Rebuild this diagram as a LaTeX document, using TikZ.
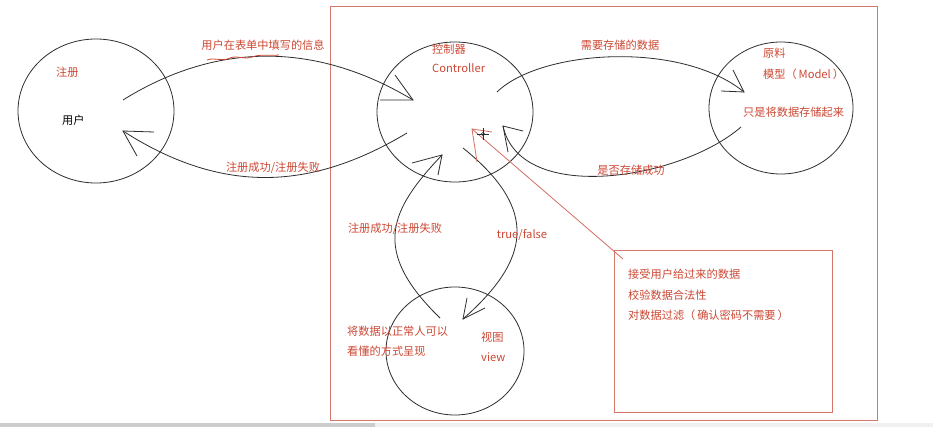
\documentclass[tikz,border=0pt]{standalone}
\usepackage{fontspec}
\newfontfamily\cjk{Noto Sans CJK SC}
\definecolor{inkred}{RGB}{204,72,52}
\definecolor{framered}{RGB}{212,120,110}
\definecolor{pen}{RGB}{45,45,45}
\begin{document}
\begin{tikzpicture}[x=1pt,y=-1pt,
  every node/.style={font=\cjk\fontsize{11.2}{13}\selectfont, inner sep=0pt},
  redtxt/.style={text=inkred},
  stroke/.style={draw=pen, line width=0.8pt},
  barb/.style={draw=pen, line width=0.8pt},
  frame/.style={draw=framered, line width=1pt}]
\useasboundingbox (0,0) rectangle (933,427);
\fill[white] (0,0) rectangle (933,427);
% scrollbar strip along the bottom edge
\fill[black!6] (0,423) rectangle (933,427);
\fill[black!20] (0,423) rectangle (375,427);

% system boundary and note box
\draw[frame] (330,7) rectangle (877,420);
\draw[frame] (614,251) rectangle (832,412);

% the four actors
\draw[stroke] (96,111) ellipse [x radius=78, y radius=72];
\draw[stroke] (455,112) ellipse [x radius=78, y radius=70];
\draw[stroke] (781,108) ellipse [x radius=72, y radius=66];
\draw[stroke] (455,351) ellipse [x radius=69, y radius=64];

% circle texts
\node[redtxt, anchor=west] (reg) at (56,72) {注册};
\node[anchor=west] (usr) at (62,120) {用户};
\node[redtxt, anchor=west] (ctl1) at (432,49) {控制器};
\node[redtxt, anchor=west] (ctl2) at (432,68) {Controller};
\node[redtxt, anchor=west] (mdl1) at (763,53) {原料};
\node[redtxt, anchor=west] (mdl2) at (763,74) {模型（\,Model\,）};
\node[redtxt, anchor=west] (mdl3) at (743,112) {只是将数据存储起来};
\node[redtxt, anchor=west] (vw1) at (481,337) {视图};
\node[redtxt, anchor=west] (vw2) at (481,357) {view};
\node[redtxt, anchor=west] (vw3) at (347,331) {将数据以正常人可以};
\node[redtxt, anchor=west] (vw4) at (347,351) {看懂的方式呈现};

% user -> controller
\coordinate (a1s) at (123,100);
\coordinate (a1e) at (413,100);
\draw[stroke] (a1s) .. controls (200,52) and (300,32) .. (a1e);
\draw[barb] (395,75) -- (a1e) -- (380,100);
\node[redtxt] (l1) at (263,45) {用户在表单中填写的信息};
\draw[inkred, line width=0.8pt] (207,60) .. controls (215,57) and (222,62) .. (230,58)
  .. controls (238,55) and (244,60) .. (252,57) .. controls (260,54) and (268,56) .. (279,55);

% controller -> user
\coordinate (a2s) at (407,133);
\coordinate (a2e) at (123,131);
\draw[stroke] (a2s) .. controls (320,185) and (230,200) .. (a2e);
\draw[barb] (154,132) -- (a2e) -- (137,156);
\node[redtxt] (l2) at (273,168) {注册成功/注册失败};

% controller -> model
\coordinate (a3s) at (497,92);
\coordinate (a3e) at (744,92);
\draw[stroke] (a3s) .. controls (540,50) and (680,40) .. (a3e);
\draw[barb] (733,70) -- (a3e) -- (721,91);
\node[redtxt] (l3) at (620,45) {需要存储的数据};

% model -> controller
\coordinate (a4s) at (741,127);
\coordinate (a4e) at (503,126);
\draw[stroke] (a4s) .. controls (680,180) and (520,205) .. (a4e);
\draw[barb] (523,131) -- (a4e) -- (508,152);
\node[redtxt] (l4) at (631,170) {是否存储成功};

% view -> controller
\coordinate (a5s) at (440,318);
\coordinate (a5e) at (442,155);
\draw[stroke] (a5s) .. controls (370,250) and (390,210) .. (a5e);
\draw[barb] (412,163) -- (a5e) -- (438,175);
\node[redtxt] (l5) at (395,229) {注册成功/注册失败};

% controller -> view
\coordinate (a6s) at (463,148);
\coordinate (a6e) at (463,319);
\draw[stroke] (a6s) .. controls (540,210) and (530,260) .. (a6e);
\draw[barb] (467,298) -- (a6e) -- (485,308);
\node[redtxt] (l6) at (522,235) {true/false};

% annotation pointer into the controller
\coordinate (ptip) at (472,129);
\coordinate (pend) at (623,259);
\draw[framered!80!inkred, line width=0.8pt] (pend) -- (ptip);
\draw[framered!80!inkred, line width=0.8pt] (492,132) -- (ptip) -- (477,162);
% cursor mark
\draw[pen, line width=0.8pt] (477,134) -- (489,134) (483,128) -- (483,140);
\draw[pen, line width=0.5pt] (483,134) circle [radius=1.8];

% note text
\node[redtxt, anchor=west] (n1) at (628,274) {接受用户给过来的数据};
\node[redtxt, anchor=west] (n2) at (628,295) {校验数据合法性};
\node[redtxt, anchor=west] (n3) at (628,315) {对数据过滤（\,确认密码不需要\,）};
\end{tikzpicture}
\end{document}
